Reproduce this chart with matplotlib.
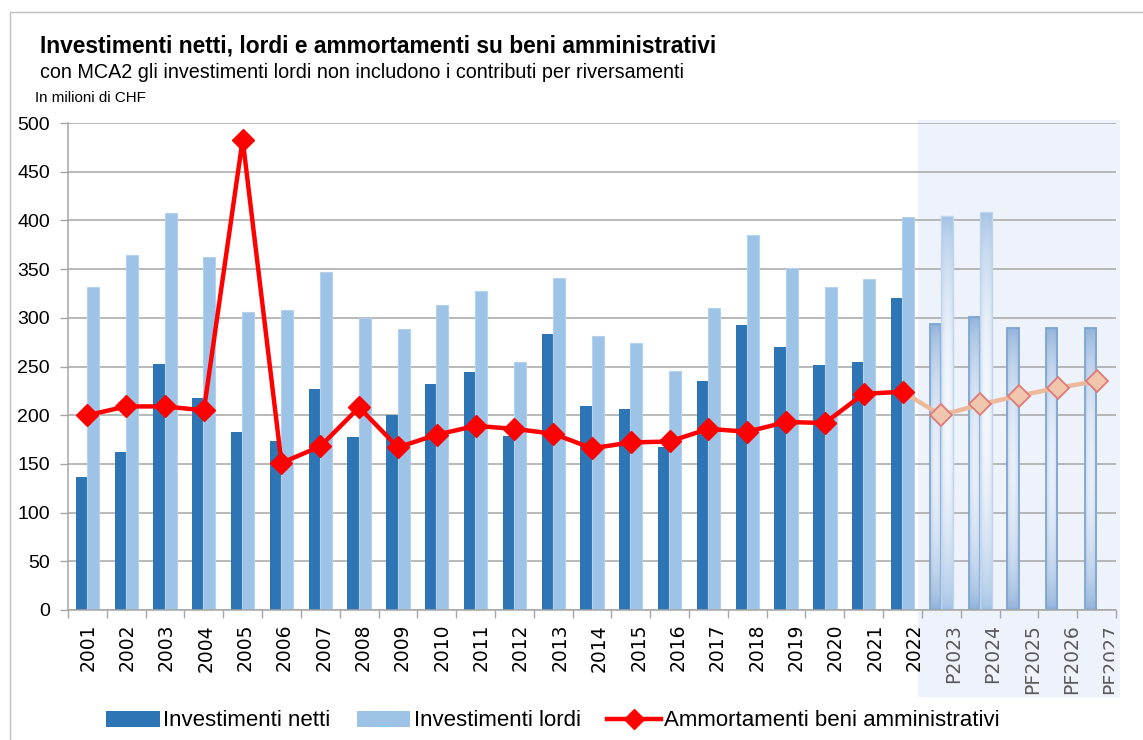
import numpy as np
import matplotlib
matplotlib.use("Agg")
import matplotlib.pyplot as plt
from matplotlib import font_manager
from matplotlib.patches import Rectangle, Patch
from matplotlib.lines import Line2D
import matplotlib.transforms as mtransforms

# ---------------- data ----------------
years = ["2001", "2002", "2003", "2004", "2005", "2006", "2007", "2008", "2009",
         "2010", "2011", "2012", "2013", "2014", "2015", "2016", "2017", "2018",
         "2019", "2020", "2021", "2022", "P2023", "P2024", "PF2025", "PF2026", "PF2027"]
n_hist = 22  # 2001..2022 are consuntivi

invest_netti = [137, 162, 253, 218, 183, 173, 227, 178, 200, 232, 244, 179, 283,
                209, 206, 167, 235, 293, 270, 252, 255, 320, 294, 301, 290, 290, 290]
invest_lordi = [332, 364, 408, 362, 306, 308, 347, 300, 289, 313, 328, 255, 341,
                281, 274, 245, 310, 385, 351, 332, 340, 403, 405, 409,
                np.nan, np.nan, np.nan]
ammortamenti = [200, 209, 209, 205, 483, 151, 168, 208, 167, 180, 189, 186, 181,
                166, 172, 173, 186, 183, 193, 192, 222, 224, 200, 211, 220, 228, 235]

title = "Investimenti netti, lordi e ammortamenti su beni amministrativi"
subtitle = "con MCA2 gli investimenti lordi non includono i contributi per riversamenti"
unit = "In milioni di CHF"
legend_labels = ["Investimenti netti", "Investimenti lordi", "Ammortamenti beni amministrativi"]

# ---------------- fonts ----------------
names = {f.name for f in font_manager.fontManager.ttflist}
narrow = "Liberation Sans Narrow" if "Liberation Sans Narrow" in names else "Liberation Sans"
plt.rcParams["font.family"] = [narrow, "DejaVu Sans"]

c_net = "#2E75B6"
c_gross = "#9DC3E6"
c_grid = "#A6A6A6"

W, H = 1143, 740
fig = plt.figure(figsize=(W / 100, H / 100), dpi=100)
fig.patch.set_facecolor("white")

ax = fig.add_axes([68 / W, (H - 610) / H, (1116 - 68) / W, (610 - 123) / H])
ax.set_facecolor("none")

x = np.arange(len(years))
net = np.array(invest_netti, dtype=float)
gross = np.array(invest_lordi, dtype=float)
amm = np.array(ammortamenti, dtype=float)

w_net, w_gross = 0.29, 0.31
off_net, off_gross = -0.155, 0.145

# shaded forecast zone (extends below the axis, behind the tick labels)
blend = mtransforms.blended_transform_factory(ax.transData, fig.transFigure)
shade = Rectangle((21.4, (H - 697) / H), 26.61 - 21.4, (697 - 120) / H,
                  transform=blend, facecolor="#EEF2FA", edgecolor="none",
                  clip_on=False, zorder=0.1)
ax.add_patch(shade)

# historical bars
ax.bar(x[:n_hist] + off_net, net[:n_hist], width=w_net, color=c_net, zorder=2)
ax.bar(x[:n_hist] + off_gross, gross[:n_hist], width=w_gross, color=c_gross,
       edgecolor="#B4D2EE", linewidth=0.8, zorder=2)

# forecast bars with gradient fill
def gradient_fill(bar, dark, light, zorder):
    x0, y0 = bar.get_x(), bar.get_y()
    w, h = bar.get_width(), bar.get_height()
    ny, nx = 200, 40
    t = np.linspace(0, 1, ny)[:, None]
    s = np.linspace(0, 1, nx)[None, :]
    v = np.sin(np.pi * t) ** 0.6
    hz = 1 - np.abs(2 * s - 1) ** 2
    mix = (v * (0.65 + 0.35 * hz))[..., None]
    dark = np.array(dark) / 255.0
    light = np.array(light) / 255.0
    img = dark + (light - dark) * mix
    im = ax.imshow(img, extent=[x0, x0 + w, y0, y0 + h], origin="lower",
                   aspect="auto", zorder=zorder, interpolation="bilinear")
    im.set_clip_path(bar)

fx = x[n_hist:]
bars_n = ax.bar(fx + off_net, net[n_hist:], width=w_net, facecolor="none",
                edgecolor="#7EA5D2", linewidth=1.3, zorder=2.1)
for b in bars_n:
    gradient_fill(b, (138, 174, 216), (232, 239, 249), 2.0)
bars_g = ax.bar(fx + off_gross, gross[n_hist:], width=w_gross, facecolor="none",
                edgecolor="#BFD6EE", linewidth=1.0, zorder=2.1)
for b in bars_g:
    if np.isfinite(b.get_height()):
        gradient_fill(b, (158, 192, 228), (244, 247, 252), 2.0)

# ammortamenti lines
ax.plot(x[n_hist - 1:], amm[n_hist - 1:], color="#EDB99B", lw=3.2, zorder=3,
        marker="D", markevery=list(range(1, len(x) - n_hist + 1)), ms=11,
        mfc="#F0C6AC", mec="#E07A7A", mew=1.3)
ax.plot(x[:n_hist], amm[:n_hist], color="#FF0000", lw=3.2, zorder=4,
        marker="D", ms=11, mfc="#FF0000", mec="#FF0000")

ax.set_xlim(-0.5, 26.5)
ax.set_ylim(0, 500)
ax.set_yticks(np.arange(0, 501, 50))
ax.set_axisbelow(True)
ax.yaxis.grid(True, color=c_grid, lw=1.1)
ax.tick_params(axis="y", direction="out", length=6, width=1, color=c_grid,
               pad=7, labelsize=14)
for lab in ax.get_yticklabels():
    lab.set_fontfamily(["Liberation Sans", "DejaVu Sans"])

ax.set_xticks(np.arange(-0.5, 27, 1.0))
ax.tick_params(axis="x", direction="out", length=6, width=1, color=c_grid,
               labelbottom=False)
for sp in ["top", "right"]:
    ax.spines[sp].set_visible(False)
for sp in ["left", "bottom"]:
    ax.spines[sp].set_color(c_grid)
    ax.spines[sp].set_linewidth(1.1)

# tick labels on a twin x axis (their spacing is slightly wider than the bars')
ax2 = ax.twiny()
ax2.set_xlim(-0.50, 26.13)
ax2.xaxis.set_ticks_position("bottom")
ax2.set_xticks(x)
ax2.set_xticklabels(years, rotation=90, fontsize=13.5, fontfamily="DejaVu Sans")
ax2.tick_params(axis="x", length=0, pad=10)
for sp in ax2.spines.values():
    sp.set_visible(False)
clipbox = mtransforms.TransformedBbox(mtransforms.Bbox([[0, 0], [1114 / W, 1]]),
                                      fig.transFigure)
for i, lab in enumerate(ax2.get_xticklabels()):
    lab.set_color("black" if i < n_hist else "#5A5A5A")
    lab.set_clip_box(clipbox)
    lab.set_clip_on(True)

# texts
fig.text(40 / W, 1 - 53 / H, title, fontsize=16.4, fontweight="bold", va="baseline")
fig.text(40 / W, 1 - 78 / H, subtitle, fontsize=14.2, va="baseline")
fig.text(35 / W, 1 - 102 / H, unit, fontsize=10.9, va="baseline")

# outer frame
fig.add_artist(Rectangle((10 / W, -0.1), 1.2, 1.1 - 12 / H, transform=fig.transFigure,
                         fill=False, edgecolor="#BFBFBF", lw=1.0))

# legend
handles = [Patch(facecolor=c_net, edgecolor="none"),
           Patch(facecolor=c_gross, edgecolor="none"),
           Line2D([], [], color="#FF0000", lw=3.2, marker="D", ms=10,
                  mfc="#FF0000", mec="#FF0000")]
fig.legend(handles, legend_labels, loc="center", bbox_to_anchor=(553 / W, 1 - 721 / H),
           ncol=3, frameon=False, fontsize=16, handlelength=2.4, handleheight=0.7,
           handletextpad=0.15, columnspacing=1.2)

fig.savefig("out.png", dpi=100)
